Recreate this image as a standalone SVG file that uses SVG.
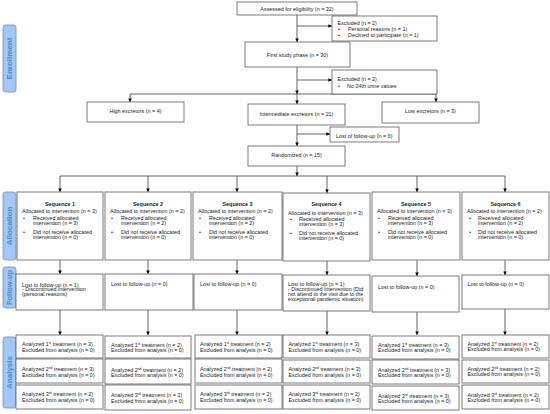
<svg xmlns="http://www.w3.org/2000/svg" width="550" height="414" viewBox="0 0 550 414">
<defs>
<marker id="ah" viewBox="0 0 6 6" refX="6" refY="3" markerWidth="3.6" markerHeight="3.6" orient="auto" markerUnits="userSpaceOnUse"><path d="M0,0 L6,3 L0,6 z" fill="#000"/></marker>
<style>
.box{fill:#fff;stroke:#5a5a5a;stroke-width:0.8}
.t{font-family:"Liberation Sans",Arial,sans-serif;font-size:5.4px;fill:#222}
.c{text-anchor:middle}
.b{font-weight:bold}
.sup{font-size:3.4px}
.ln{fill:none;stroke:#222;stroke-width:0.7}
.ar{fill:none;stroke:#222;stroke-width:0.7;marker-end:url(#ah)}
.side{fill:#a3c8f5;stroke:#6d8db3;stroke-width:0.8}
.sl{font-family:"Liberation Sans",Arial,sans-serif;font-size:8px;font-weight:bold;fill:#4a87d9;text-anchor:middle}
</style>
</defs>
<rect width="550" height="414" fill="#fff"/>

<g id="connectors">
<line class="ar" x1="297" y1="15" x2="297" y2="42"/>
<line class="ar" x1="297" y1="26" x2="332" y2="26"/>
<line class="ar" x1="297" y1="67" x2="297" y2="94"/>
<line class="ar" x1="297" y1="80" x2="332" y2="80"/>
<line class="ln" x1="130" y1="94" x2="436" y2="94"/>
<line class="ar" x1="130" y1="94" x2="130" y2="102"/>
<line class="ar" x1="436" y1="94" x2="436" y2="102"/>
<line class="ar" x1="297" y1="94" x2="297" y2="104"/>
<line class="ar" x1="297" y1="125" x2="297" y2="146"/>
<line class="ar" x1="297" y1="134" x2="330" y2="134"/>
<line class="ar" x1="297" y1="166" x2="297" y2="176"/>
<line class="ln" x1="60" y1="176" x2="505" y2="176"/>
<line class="ar" x1="60" y1="176" x2="60" y2="192"/>
<line class="ar" x1="148" y1="176" x2="148" y2="192"/>
<line class="ar" x1="237" y1="176" x2="237" y2="192"/>
<line class="ar" x1="327" y1="176" x2="327" y2="193"/>
<line class="ar" x1="417" y1="176" x2="417" y2="192"/>
<line class="ar" x1="505" y1="176" x2="505" y2="192"/>
<line class="ar" x1="60" y1="260" x2="60" y2="274"/>
<line class="ar" x1="148" y1="260" x2="148" y2="274"/>
<line class="ar" x1="237" y1="260" x2="237" y2="274"/>
<line class="ar" x1="327" y1="261" x2="327" y2="275"/>
<line class="ar" x1="417" y1="260" x2="417" y2="276"/>
<line class="ar" x1="505" y1="260" x2="505" y2="275"/>
<line class="ar" x1="60" y1="310" x2="60" y2="335"/>
<line class="ar" x1="148" y1="310" x2="148" y2="335"/>
<line class="ar" x1="237" y1="310" x2="237" y2="335"/>
<line class="ar" x1="327" y1="311" x2="327" y2="335"/>
<line class="ar" x1="417" y1="312" x2="417" y2="335"/>
<line class="ar" x1="505" y1="309" x2="505" y2="335"/>
</g>

<g id="side-enrollment"><rect class="side" x="3" y="25" width="13" height="67" rx="2.5"/><text class="sl" transform="translate(12.3,58.5) rotate(-90)">Enrollment</text></g>
<g id="side-allocation"><rect class="side" x="3" y="192" width="13" height="68" rx="2.5"/><text class="sl" transform="translate(12.3,226) rotate(-90)">Allocation</text></g>
<g id="side-followup"><rect class="side" x="3" y="267" width="13" height="41" rx="2.5"/><text class="sl" style="font-size:7.4px" transform="translate(12,287.5) rotate(-90)">Follow-up</text></g>
<g id="side-analysis"><rect class="side" x="3" y="337" width="13" height="71" rx="2.5"/><text class="sl" transform="translate(12.3,372.5) rotate(-90)">Analysis</text></g>

<g id="assessed"><rect class="box" x="237" y="2" width="120" height="13"/><text class="t c" x="297" y="11">Assessed for eligibility (n = 32)</text></g>
<g id="excluded1"><rect class="box" x="332" y="16" width="105" height="25"/>
<text class="t" x="337.5" y="24.5">Excluded (n = 2)</text>
<text class="t" x="338" y="30.5">•</text><text class="t" x="348" y="30.5">Personal reasons (n = 1)</text>
<text class="t" x="338" y="36.5">•</text><text class="t" x="348" y="36.5">Declined to participate (n = 1)</text></g>
<g id="first-phase"><rect class="box" x="245" y="42" width="105" height="25"/><text class="t c" x="297.5" y="56.7">First study phase (n = 30)</text></g>
<g id="excluded2"><rect class="box" x="332" y="70" width="105" height="24"/>
<text class="t" x="337.5" y="81">Excluded (n = 2)</text>
<text class="t" x="338" y="87.5">•</text><text class="t" x="347" y="87.5">No 24th urine values</text></g>
<g id="high"><rect class="box" x="87" y="102" width="97" height="20"/><text class="t c" x="135.5" y="112.5">High excretors (n = 4)</text></g>
<g id="intermediate"><rect class="box" x="248" y="104" width="97" height="21"/><text class="t c" x="296.5" y="116">Intermediate excretors (n = 21)</text></g>
<g id="low"><rect class="box" x="382" y="102" width="97" height="21"/><text class="t c" x="430.5" y="113">Low excretors (n = 3)</text></g>
<g id="lost"><rect class="box" x="330" y="127" width="69" height="15"/><text class="t" x="336" y="138">Lost of follow-up (n = 6)</text></g>
<g id="randomized"><rect class="box" x="248" y="146" width="97" height="20"/><text class="t c" x="296.5" y="157">Randomized (n = 15)</text></g>

<g id="seq1"><rect class="box" x="17" y="192" width="86" height="68"/>
<text class="t c b" x="60" y="205.5">Sequence 1</text>
<text class="t" x="22" y="213">Allocated to intervention (n = 3)</text>
<text class="t" x="23" y="219.5">•</text><text class="t" x="33" y="219.5">Received allocated</text><text class="t" x="33" y="224.5">intervention (n = 3)</text>
<text class="t" x="23" y="233.5">•</text><text class="t" x="33" y="233.5">Did not receive allocated</text><text class="t" x="33" y="238.5">intervention (n = 0)</text></g>
<g id="seq2"><rect class="box" x="105" y="192" width="86" height="68"/>
<text class="t c b" x="148" y="205.5">Sequence 2</text>
<text class="t" x="110" y="213">Allocated to intervention (n = 2)</text>
<text class="t" x="111" y="219.5">•</text><text class="t" x="121" y="219.5">Received allocated</text><text class="t" x="121" y="224.5">intervention (n = 2)</text>
<text class="t" x="111" y="233.5">•</text><text class="t" x="121" y="233.5">Did not receive allocated</text><text class="t" x="121" y="238.5">intervention (n = 0)</text></g>
<g id="seq3"><rect class="box" x="193" y="192" width="89" height="68"/>
<text class="t c b" x="237.5" y="205.5">Sequence 3</text>
<text class="t" x="198" y="213">Allocated to intervention (n = 2)</text>
<text class="t" x="199" y="219.5">•</text><text class="t" x="209" y="219.5">Received allocated</text><text class="t" x="209" y="224.5">intervention (n = 2)</text>
<text class="t" x="199" y="233.5">•</text><text class="t" x="209" y="233.5">Did not receive allocated</text><text class="t" x="209" y="238.5">intervention (n = 0)</text></g>
<g id="seq4"><rect class="box" x="283" y="193" width="87" height="68"/>
<text class="t c b" x="326.5" y="206">Sequence 4</text>
<text class="t" x="288" y="215">Allocated to intervention (n = 3)</text>
<text class="t" x="290" y="221">•</text><text class="t" x="299" y="221">Received allocated</text><text class="t" x="299" y="226">intervention (n = 3)</text>
<text class="t" x="290" y="234.5">•</text><text class="t" x="299" y="234.5">Did not receive allocated</text><text class="t" x="299" y="239.5">intervention (n = 0)</text></g>
<g id="seq5"><rect class="box" x="372" y="192" width="88" height="68"/>
<text class="t c b" x="416" y="205.5">Sequence 5</text>
<text class="t" x="377" y="213">Allocated to intervention (n = 3)</text>
<text class="t" x="378" y="219.5">•</text><text class="t" x="388" y="219.5">Received allocated</text><text class="t" x="388" y="224.5">intervention (n = 3)</text>
<text class="t" x="378" y="233.5">•</text><text class="t" x="388" y="233.5">Did not receive allocated</text><text class="t" x="388" y="238.5">intervention (n = 0)</text></g>
<g id="seq6"><rect class="box" x="462" y="192" width="87" height="68"/>
<text class="t c b" x="505.5" y="205.5">Sequence 6</text>
<text class="t" x="467" y="213">Allocated to intervention (n = 2)</text>
<text class="t" x="469" y="219.5">•</text><text class="t" x="478" y="219.5">Received allocated</text><text class="t" x="478" y="224.5">intervention (n = 2)</text>
<text class="t" x="469" y="233.5">•</text><text class="t" x="478" y="233.5">Did not receive allocated</text><text class="t" x="478" y="238.5">intervention (n = 0)</text></g>

<g id="fu1"><rect class="box" x="16" y="274" width="87" height="36"/>
<text class="t" x="22" y="286.5">Lost to follow-up (n = 1)</text>
<text class="t" x="22" y="291.3">- Discontinued intervention</text>
<text class="t" x="22" y="296.1">(personal reasons)</text></g>
<g id="fu2"><rect class="box" x="105" y="274" width="88" height="36"/><text class="t" x="111" y="286.3">Lost to follow-up (n = 0)</text></g>
<g id="fu3"><rect class="box" x="194" y="274" width="88" height="36"/><text class="t" x="200" y="286.3">Lost to follow-up (n = 0)</text></g>
<g id="fu4"><rect class="box" x="283" y="275" width="87" height="36"/>
<text class="t" x="288" y="285.8">Lost to follow-up (n = 1)</text>
<text class="t" x="288" y="290.8">- Discontinued intervention (Did</text>
<text class="t" x="288" y="295.8">not attend to the visit due to the</text>
<text class="t" x="288" y="300.8">exceptional pandemic situation)</text></g>
<g id="fu5"><rect class="box" x="372" y="276" width="87" height="36"/><text class="t" x="378" y="288.5">Lost to follow-up (n = 0)</text></g>
<g id="fu6"><rect class="box" x="462" y="275" width="87" height="34"/><text class="t" x="467.5" y="286">Lost to follow-up (n = 0)</text></g>

<g id="an1">
<rect class="box" x="16" y="335" width="87" height="23"/>
<text class="t" x="22" y="346">Analyzed 1<tspan class="sup" dy="-1.8">st</tspan><tspan dy="1.8"> treatment (n = 3)</tspan></text><text class="t" x="22" y="351.5">Excluded from analysis (n = 0)</text>
<rect class="box" x="16" y="359" width="87" height="24"/>
<text class="t" x="22" y="371">Analyzed 2<tspan class="sup" dy="-1.8">nd</tspan><tspan dy="1.8"> treatment (n = 3)</tspan></text><text class="t" x="22" y="376.5">Excluded from analysis (n = 0)</text>
<rect class="box" x="16" y="385" width="87" height="24"/>
<text class="t" x="22" y="396">Analyzed 3<tspan class="sup" dy="-1.8">rd</tspan><tspan dy="1.8"> treatment (n = 2)</tspan></text><text class="t" x="22" y="401.5">Excluded from analysis (n = 0)</text>
</g>
<g id="an2">
<rect class="box" x="105" y="336" width="86" height="22"/>
<text class="t" x="111" y="346.5">Analyzed 1<tspan class="sup" dy="-1.8">st</tspan><tspan dy="1.8"> treatment (n = 2)</tspan></text><text class="t" x="111" y="352">Excluded from analysis (n = 0)</text>
<rect class="box" x="105" y="359" width="86" height="25"/>
<text class="t" x="111" y="371.5">Analyzed 2<tspan class="sup" dy="-1.8">nd</tspan><tspan dy="1.8"> treatment (n = 2)</tspan></text><text class="t" x="111" y="377">Excluded from analysis (n = 0)</text>
<rect class="box" x="105" y="385" width="86" height="25"/>
<text class="t" x="111" y="397">Analyzed 3<tspan class="sup" dy="-1.8">rd</tspan><tspan dy="1.8"> treatment (n = 2)</tspan></text><text class="t" x="111" y="402.5">Excluded from analysis (n = 0)</text>
</g>
<g id="an3">
<rect class="box" x="195" y="335" width="87" height="23"/>
<text class="t" x="200" y="346">Analyzed 1<tspan class="sup" dy="-1.8">st</tspan><tspan dy="1.8"> treatment (n = 2)</tspan></text><text class="t" x="200" y="351.5">Excluded from analysis (n = 0)</text>
<rect class="box" x="195" y="359" width="87" height="24"/>
<text class="t" x="200" y="371">Analyzed 2<tspan class="sup" dy="-1.8">nd</tspan><tspan dy="1.8"> treatment (n = 2)</tspan></text><text class="t" x="200" y="376.5">Excluded from analysis (n = 0)</text>
<rect class="box" x="195" y="385" width="87" height="24"/>
<text class="t" x="200" y="396">Analyzed 3<tspan class="sup" dy="-1.8">rd</tspan><tspan dy="1.8"> treatment (n = 2)</tspan></text><text class="t" x="200" y="401.5">Excluded from analysis (n = 0)</text>
</g>
<g id="an4">
<rect class="box" x="283" y="335" width="87" height="23"/>
<text class="t" x="288.5" y="346">Analyzed 1<tspan class="sup" dy="-1.8">st</tspan><tspan dy="1.8"> treatment (n = 3)</tspan></text><text class="t" x="288.5" y="351.5">Excluded from analysis (n = 0)</text>
<rect class="box" x="283" y="360" width="87" height="23"/>
<text class="t" x="288.5" y="371">Analyzed 2<tspan class="sup" dy="-1.8">nd</tspan><tspan dy="1.8"> treatment (n = 3)</tspan></text><text class="t" x="288.5" y="376.5">Excluded from analysis (n = 0)</text>
<rect class="box" x="283" y="385" width="87" height="24"/>
<text class="t" x="288.5" y="396">Analyzed 3<tspan class="sup" dy="-1.8">rd</tspan><tspan dy="1.8"> treatment (n = 2)</tspan></text><text class="t" x="288.5" y="401.5">Excluded from analysis (n = 0)</text>
</g>
<g id="an5">
<rect class="box" x="372" y="336" width="87" height="23"/>
<text class="t" x="378" y="346.5">Analyzed 1<tspan class="sup" dy="-1.8">st</tspan><tspan dy="1.8"> treatment (n = 3)</tspan></text><text class="t" x="378" y="352">Excluded from analysis (n = 0)</text>
<rect class="box" x="372" y="360" width="87" height="24"/>
<text class="t" x="378" y="371.5">Analyzed 2<tspan class="sup" dy="-1.8">nd</tspan><tspan dy="1.8"> treatment (n = 3)</tspan></text><text class="t" x="378" y="377">Excluded from analysis (n = 0)</text>
<rect class="box" x="372" y="386" width="87" height="24"/>
<text class="t" x="378" y="397.5">Analyzed 3<tspan class="sup" dy="-1.8">rd</tspan><tspan dy="1.8"> treatment (n = 3)</tspan></text><text class="t" x="378" y="403">Excluded from analysis (n = 0)</text>
</g>
<g id="an6">
<rect class="box" x="462" y="335" width="87" height="23"/>
<text class="t" x="467.5" y="345.5">Analyzed 1<tspan class="sup" dy="-1.8">st</tspan><tspan dy="1.8"> treatment (n = 2)</tspan></text><text class="t" x="467.5" y="351">Excluded from analysis (n = 0)</text>
<rect class="box" x="462" y="360" width="87" height="23"/>
<text class="t" x="467.5" y="370.5">Analyzed 2<tspan class="sup" dy="-1.8">nd</tspan><tspan dy="1.8"> treatment (n = 2)</tspan></text><text class="t" x="467.5" y="376">Excluded from analysis (n = 0)</text>
<rect class="box" x="462" y="385" width="87" height="24"/>
<text class="t" x="467.5" y="396.5">Analyzed 3<tspan class="sup" dy="-1.8">rd</tspan><tspan dy="1.8"> treatment (n = 2)</tspan></text><text class="t" x="467.5" y="402">Excluded from analysis (n = 0)</text>
</g>
</svg>
